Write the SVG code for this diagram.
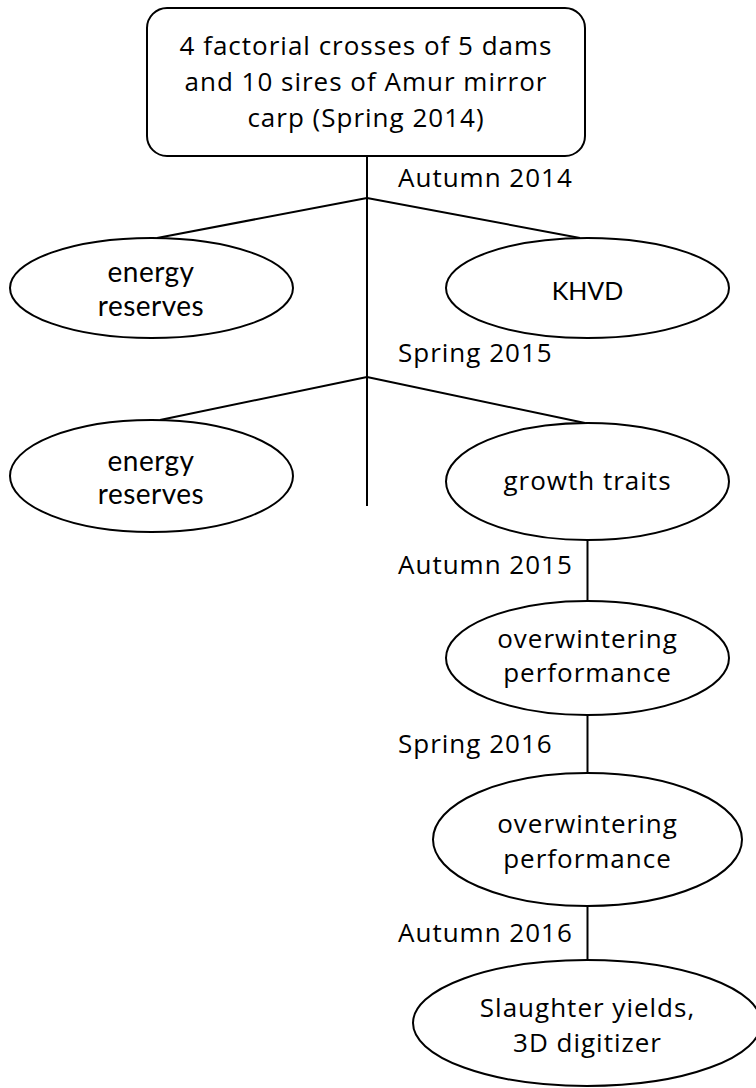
<svg xmlns="http://www.w3.org/2000/svg" width="756" height="1088" viewBox="0 0 756 1088">
<style>
.shape{fill:#fff;stroke:#000;stroke-width:2}
.conn line{stroke:#000;stroke-width:2}
text{font-family:"Open Sans","Noto Sans",sans-serif;font-size:26px;letter-spacing:1px;fill:#000}
.c{text-anchor:middle}
.cal{font-family:Lato,"Open Sans",sans-serif;font-size:28px;letter-spacing:0.5px}
.k{font-size:25px;letter-spacing:0}
</style>
<rect width="756" height="1088" fill="#fff"/>
<g id="connectors" class="conn">
<line x1="367" y1="156" x2="367" y2="506"/>
<line x1="367" y1="198" x2="157" y2="238"/>
<line x1="367" y1="198" x2="580" y2="238"/>
<line x1="367" y1="377" x2="160" y2="420"/>
<line x1="367" y1="377" x2="585" y2="423"/>
<line x1="587.5" y1="540" x2="587.5" y2="601"/>
<line x1="587.5" y1="715" x2="587.5" y2="773"/>
<line x1="587.5" y1="906" x2="587.5" y2="960"/>
</g>
<g id="labels">
<text x="398" y="187">Autumn 2014</text>
<text x="398" y="362">Spring 2015</text>
<text x="398" y="574">Autumn 2015</text>
<text x="398" y="753">Spring 2016</text>
<text x="398" y="942">Autumn 2016</text>
</g>
<g id="root">
<rect class="shape" x="147" y="8" width="438" height="148" rx="20"/>
<text class="c" x="366" y="55">4 factorial crosses of 5 dams</text>
<text class="c" x="366" y="91">and 10 sires of Amur mirror</text>
<text class="c" x="366" y="127">carp (Spring 2014)</text>
</g>
<g id="energy1">
<ellipse class="shape" cx="151.5" cy="288" rx="141.5" ry="50"/>
<text class="c cal" x="151" y="282">energy</text>
<text class="c cal" x="151" y="316">reserves</text>
</g>
<g id="khvd">
<ellipse class="shape" cx="587.5" cy="288" rx="141.5" ry="50"/>
<text class="c cal k" x="587.5" y="300">KHVD</text>
</g>
<g id="energy2">
<ellipse class="shape" cx="151.5" cy="476" rx="141.5" ry="56"/>
<text class="c cal" x="151" y="471">energy</text>
<text class="c cal" x="151" y="504">reserves</text>
</g>
<g id="growth">
<ellipse class="shape" cx="587.5" cy="481.5" rx="141.5" ry="58.5"/>
<text class="c" x="587.5" y="490">growth traits</text>
</g>
<g id="overwinter1">
<ellipse class="shape" cx="587.5" cy="658" rx="141.5" ry="57"/>
<text class="c" x="587.5" y="648">overwintering</text>
<text class="c" x="587.5" y="682">performance</text>
</g>
<g id="overwinter2">
<ellipse class="shape" cx="587.5" cy="839.5" rx="154.5" ry="66.5"/>
<text class="c" x="587.5" y="833">overwintering</text>
<text class="c" x="587.5" y="868">performance</text>
</g>
<g id="slaughter">
<ellipse class="shape" cx="587" cy="1023" rx="174" ry="63"/>
<text class="c" x="587.5" y="1017">Slaughter yields,</text>
<text class="c" x="587.5" y="1052">3D digitizer</text>
</g>
</svg>
